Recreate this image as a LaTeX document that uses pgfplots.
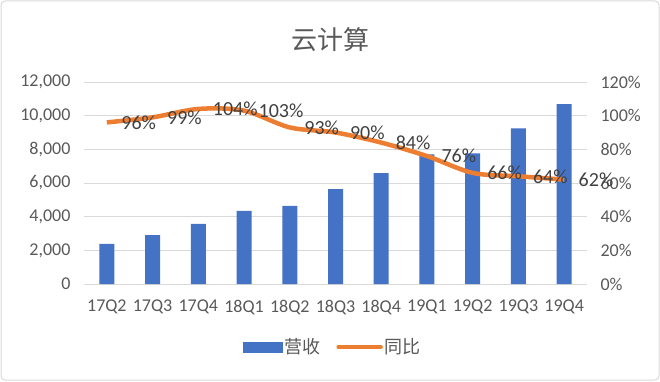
\documentclass[border=0pt]{standalone}
\usepackage{pgfplots}
\pgfplotsset{compat=1.18}
\usepackage{fontspec}
\setmainfont{Carlito}
\newfontfamily\cjk{Noto Sans CJK SC}
\definecolor{barblue}{HTML}{4472C4}
\definecolor{lineorange}{HTML}{ED7D31}
\definecolor{txt}{HTML}{595959}
\definecolor{gridc}{HTML}{D9D9D9}
\definecolor{lbl}{HTML}{404040}
\begin{document}
\begin{tikzpicture}[font=\fontsize{18}{20}\selectfont]
\useasboundingbox (0,0) rectangle (660pt,381pt);
\draw[gridc, line width=1pt, rounded corners=4pt] (1pt,1pt) rectangle (659pt,380pt);
\node[txt, font=\cjk\fontsize{26}{30}\selectfont] at (330pt,341pt) {云计算};
\begin{axis}[at={(84pt,97pt)}, anchor=south west, scale only axis,
  width=503pt, height=202pt,
  xmin=-0.5, xmax=10.5, ymin=0, ymax=12000,
  xtick={0,...,10},
  xticklabels={17Q2,17Q3,17Q4,18Q1,18Q2,18Q3,18Q4,19Q1,19Q2,19Q3,19Q4},
  ytick={0,2000,...,12000},
  ymajorgrids, grid style={gridc, line width=1pt},
  axis line style={draw=none},
  tick style={draw=none},
  ticklabel style={txt},
  yticklabel style={xshift=-10pt},
  xticklabel style={yshift=-8pt},
  /pgf/number format/assume math mode=true,
  /pgf/number format/1000 sep={,},
  scaled y ticks=false,
  ybar, bar width=15pt,
]
\addplot[fill=barblue, draw=none] coordinates {
(0,2380) (1,2910) (2,3570) (3,4340) (4,4640) (5,5630) (6,6580) (7,7700) (8,7760) (9,9250) (10,10690)};
\end{axis}
\begin{axis}[at={(84pt,97pt)}, anchor=south west, scale only axis,
  width=503pt, height=202pt,
  xmin=-0.5, xmax=10.5, ymin=0, ymax=120,
  axis x line=none,
  axis y line*=right,
  axis line style={draw=none},
  tick style={draw=none},
  ytick={0,20,...,120},
  yticklabel={\pgfmathprintnumber{\tick}\%},
  yticklabel style={txt, xshift=10pt},
  /pgf/number format/assume math mode=true,
  legend style={at={(0.495,-0.312)}, anchor=center, draw=none, fill=none,
    legend columns=-1, font=\cjk\fontsize{18}{20}\selectfont, text=txt,
    /tikz/every even column/.append style={column sep=14pt}},
]
\addlegendimage{legend image code/.code={\fill[barblue] (0pt,-5pt) rectangle (39pt,5pt);}}
\addlegendentry{营收}
\addlegendimage{legend image code/.code={\draw[lineorange, line width=4.5pt, line cap=round] (0pt,0pt) -- (42pt,0pt);}}
\addlegendentry{同比}
\addplot[forget plot, lineorange, line width=4.5pt, smooth, tension=0.5,
  nodes near coords={\pgfmathprintnumber{\pgfplotspointmeta}\%},
  nodes near coords style={anchor=west, xshift=9pt, lbl, font=\fontsize{20}{22}\selectfont}]
coordinates {
(0,96) (1,99) (2,104) (3,103) (4,93) (5,90) (6,84) (7,76) (8,66) (9,64) (10,62)};
\end{axis}
\end{tikzpicture}
\end{document}
